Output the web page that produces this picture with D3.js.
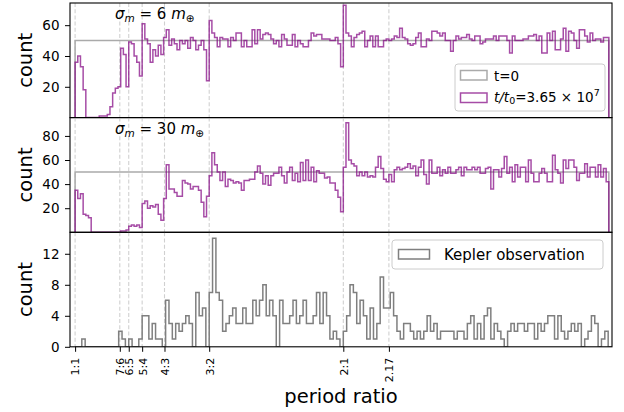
<!DOCTYPE html>
<html>
<head>
<meta charset="utf-8">
<script src="https://cdn.jsdelivr.net/npm/d3@7"></script>
<style>
  body { margin: 0; background: #fff; }
  svg { display: block; }
  text { font-family: "DejaVu Sans", sans-serif; }
</style>
</head>
<body>
<svg id="chart" width="624" height="412"></svg>
<script>
// Resonance markers on the shared period-ratio axis
const resonanceValues = [1, 7 / 6, 6 / 5, 5 / 4, 4 / 3, 3 / 2, 2, 2.17];
const resonanceLabels = ["1:1", "7:6", "6:5", "5:4", "4:3", "3:2", "2:1", "2.17"];

// Histogram binning
const simBinStart = 1.0;
const simBinWidth = 0.01;
const keplerBinStart = 1.0;
const keplerBinWidth = 0.0125;
const initialCount = 50;   // flat t=0 distribution per bin

// Simulated counts, sigma_m = 6 Earth masses
const countSigma6 = [
  36, 40, 33, 18, 0, 0, 0, 0, 0, 1, 1, 1, 2, 7, 16, 19, 20, 45, 41, 20,
  49, 48, 40, 36, 27, 61, 51, 48, 36, 44, 40, 47, 41, 52, 57, 47, 51, 48, 44, 50,
  48, 50, 45, 52, 50, 44, 47, 50, 44, 24,
  63, 55, 52, 46, 52, 51, 51, 46, 52, 50, 55, 55, 46, 50, 46, 46, 57, 48, 57, 51,
  54, 55, 54, 51, 48,
  50, 46, 54, 51, 47, 47, 54, 46, 50, 48, 46, 46, 50, 55, 53, 54, 54, 51, 51, 51,
  50, 50, 52, 48, 33,
  73, 55, 53, 46, 52, 54, 55, 56, 46, 50, 53, 46, 53, 46, 46, 50, 51, 50, 51, 53,
  52, 58, 52, 51, 48, 47, 48, 52, 55, 46, 46, 51, 50,
  56, 56, 55, 53, 55, 50, 50, 43, 50, 53, 51, 52, 52, 54, 51, 50, 53, 53, 48, 49,
  51, 51, 51, 53, 50, 53, 53, 53, 50, 42, 53, 50, 50, 50, 51, 51, 53, 53, 54, 50,
  53, 42, 42, 55, 50, 56, 44, 44, 51, 58, 43, 56, 55, 50, 45, 57, 57, 53, 49, 55,
  50, 51, 51, 49, 52, 52
];

// Simulated counts, sigma_m = 30 Earth masses
const countSigma30 = [
  35, 28, 32, 15, 14, 12, 0, 0, 0, 0, 0, 0, 0, 0, 0, 0, 0, 1, 1, 2,
  5, 6, 5, 6, 4, 24, 26, 20, 22, 21, 23, 15, 10, 28, 56, 36, 36, 33, 30, 30,
  43, 41, 40, 36, 38, 38, 35, 25, 13, 30,
  47, 66, 56, 50, 43, 50, 38, 44, 43, 41, 42, 41, 35, 43, 43,
  44, 44, 50, 55, 49, 40, 47, 39, 47, 49, 49, 54, 47, 41, 50, 54, 43, 49, 42, 58,
  43, 60, 43, 54, 42, 51, 49, 49, 45, 46, 41, 41, 35, 29, 17, 54, 91,
  60, 57, 55, 47, 50, 47, 50, 46, 47, 46, 54, 63, 53, 44, 42, 48, 42, 52, 54, 52,
  53, 54, 57, 53, 55, 47, 54, 60, 48, 40, 60,
  49, 49, 54, 47, 52, 49, 54, 49, 49, 52, 54, 47, 54, 52, 52, 54, 52, 54, 49, 49,
  53, 54, 36, 52, 52, 46, 53, 63, 49, 54, 42, 56, 46, 54, 54, 42, 60, 49, 42, 42,
  49, 53, 49, 42, 42, 64, 52, 49, 41, 60, 53, 60, 60, 54, 43, 49, 49, 57, 46, 54,
  54, 46, 56, 46, 53, 42
];

// Observed Kepler adjacent-pair period ratios
const countKepler = [
  0, 0, 1, 0, 0, 0, 0, 0, 0, 0, 0, 0, 0, 2, 1, 0, 1, 0, 0, 1,
  4, 4, 1, 3, 1, 1, 0, 6, 3, 1, 3, 2, 3, 4, 3, 0, 7, 4, 5, 0,
  7, 14, 7, 6, 2, 3, 4, 5, 3, 3, 5, 3, 3, 6, 4, 6, 8, 4, 6, 4,
  0, 6, 3, 3, 4, 6, 3, 4, 6, 3, 3, 4, 7, 3, 7, 4, 1, 2, 1, 0,
  2, 4, 8, 7, 3, 6, 4, 1, 5, 1, 3, 9, 5, 5, 7, 4, 2, 1, 3, 3,
  2, 1, 2, 1, 2, 4, 2, 3, 1, 2, 2, 2, 2, 1, 2, 2, 1, 3, 4, 1,
  3, 1, 4, 5, 1, 3, 2, 1, 0, 2, 3, 2, 3, 3, 2, 3, 3, 1, 3, 2,
  3, 4, 4, 1, 4, 2, 1, 2, 3, 2, 3, 0, 1, 2, 4, 3, 0, 1, 2, 0
];

const ticksSigma6 = [20, 40, 60];
const ticksSigma30 = [20, 40, 60, 80];
const ticksKepler = [0, 4, 8, 12];

const svg = d3.select("#chart");
const plotLeft = 70, plotRight = 612;

const x = d3.scaleLinear().domain([0.981, 3.0018]).range([plotLeft, plotRight]);

const panels = [
  { top: 3, bottom: 117.6, ymax: 74.4, ticks: ticksSigma6 },
  { top: 117.6, bottom: 232.3, ymax: 95.2, ticks: ticksSigma30 },
  { top: 232.3, bottom: 346.8, ymax: 14.77, ticks: ticksKepler }
];
panels.forEach(p => {
  p.y = d3.scaleLinear().domain([0, p.ymax]).range([p.bottom, p.top]);
});

const defs = svg.append("defs");
panels.forEach((p, i) => {
  defs.append("clipPath").attr("id", "clip" + i)
    .append("rect")
    .attr("x", plotLeft).attr("y", p.top)
    .attr("width", plotRight - plotLeft).attr("height", p.bottom - p.top);
});

// Build step outline points for a histogram
function stepPoints(counts, start, width, closeEnd) {
  const pts = [[start, 0]];
  counts.forEach((c, i) => {
    pts.push([start + i * width, c], [start + (i + 1) * width, c]);
  });
  if (closeEnd) pts.push([start + counts.length * width, 0]);
  return pts;
}

const simColor = "#800080";
const initColor = "#aaaaaa";
const keplerColor = "#7f7f7f";

panels.forEach((p, i) => {
  const g = svg.append("g").attr("clip-path", `url(#clip${i})`);
  const line = d3.line().x(d => x(d[0])).y(d => p.y(d[1]));

  // dashed resonance guides
  g.selectAll("line.res")
    .data(resonanceValues)
    .join("line")
    .attr("x1", d => x(d)).attr("x2", d => x(d))
    .attr("y1", p.top).attr("y2", p.bottom)
    .attr("stroke", "#d0d0d0")
    .attr("stroke-width", 1.1)
    .attr("stroke-dasharray", "4,2.2");

  if (i < 2) {
    const nBins = (i === 0 ? countSigma6 : countSigma30).length;
    const flat = new Array(nBins).fill(initialCount);
    g.append("path")
      .attr("d", line(stepPoints(flat, simBinStart, simBinWidth, true)))
      .attr("fill", "none")
      .attr("stroke", initColor)
      .attr("stroke-width", 1.5);
    g.append("path")
      .attr("d", line(stepPoints(i === 0 ? countSigma6 : countSigma30, simBinStart, simBinWidth, true)))
      .attr("fill", "none")
      .attr("stroke", simColor)
      .attr("stroke-opacity", 0.7)
      .attr("stroke-width", 1.5)
      .attr("stroke-linejoin", "miter");
  } else {
    g.append("path")
      .attr("d", line(stepPoints(countKepler, keplerBinStart, keplerBinWidth, false)))
      .attr("fill", "none")
      .attr("stroke", keplerColor)
      .attr("stroke-width", 1.5);
  }

  // y axis
  const ax = svg.append("g")
    .attr("transform", `translate(${plotLeft},0)`)
    .call(d3.axisLeft(p.y).tickValues(p.ticks).tickSize(5).tickPadding(5.5).tickFormat(d3.format("d")));
  ax.select(".domain").remove();
  ax.selectAll("line").attr("stroke", "#000").attr("stroke-width", 1);
  ax.selectAll("text").attr("font-size", 13.5).attr("fill", "#000")
    .attr("font-family", "DejaVu Sans");

  // frame
  svg.append("rect")
    .attr("x", plotLeft).attr("y", p.top)
    .attr("width", plotRight - plotLeft).attr("height", p.bottom - p.top)
    .attr("fill", "none").attr("stroke", "#000").attr("stroke-width", 1.1);

  // y label
  svg.append("text")
    .attr("transform", `translate(31.5,${(p.top + p.bottom) / 2}) rotate(-90)`)
    .attr("text-anchor", "middle")
    .attr("font-size", 19.5)
    .text("count");
});

// bottom x axis with resonance labels
const xAxis = svg.append("g")
  .attr("transform", `translate(0,${panels[2].bottom})`)
  .call(d3.axisBottom(x).tickValues(resonanceValues)
    .tickFormat((d, i) => resonanceLabels[i]).tickSize(5));
xAxis.select(".domain").remove();
xAxis.selectAll("line").attr("stroke", "#000");
xAxis.selectAll("text")
  .attr("font-size", 11)
  .attr("font-family", "DejaVu Sans")
  .attr("fill", "#000")
  .attr("transform", "rotate(-90)")
  .attr("text-anchor", "end")
  .attr("x", -11)
  .attr("y", 0)
  .attr("dy", "0.35em");

svg.append("text")
  .attr("x", (plotLeft + plotRight) / 2).attr("y", 403)
  .attr("text-anchor", "middle")
  .attr("font-size", 19.5)
  .text("period ratio");

// panel annotations: sigma_m = N m_earth
function sigmaLabel(xPos, yPos, value) {
  const t = svg.append("text").attr("x", xPos).attr("y", yPos).attr("font-size", 15);
  t.append("tspan").attr("font-style", "italic").text("σ");
  t.append("tspan").attr("font-style", "italic").attr("font-size", 10.5).attr("dy", 3).text("m");
  t.append("tspan").attr("dy", -3).text(` = ${value} `);
  t.append("tspan").attr("font-style", "italic").text("m");
  t.append("tspan").attr("font-size", 10.5).attr("dy", 3).text("⊕");
}
sigmaLabel(115, 18.5, 6);
sigmaLabel(115, 134, 30);

// legend for the simulated panels
const leg1 = svg.append("g");
leg1.append("rect")
  .attr("x", 455).attr("y", 64).attr("width", 150).attr("height", 47).attr("rx", 3)
  .attr("fill", "#fff").attr("fill-opacity", 0.8)
  .attr("stroke", "#cccccc").attr("stroke-width", 1);
leg1.append("rect")
  .attr("x", 460.5).attr("y", 70.5).attr("width", 26.5).attr("height", 9.5)
  .attr("fill", "none").attr("stroke", initColor).attr("stroke-width", 1.5);
leg1.append("text").attr("x", 494).attr("y", 80.5).attr("font-size", 13.5).text("t=0");
leg1.append("rect")
  .attr("x", 460.5).attr("y", 93).attr("width", 26.5).attr("height", 9.5)
  .attr("fill", "none").attr("stroke", simColor).attr("stroke-opacity", 0.7).attr("stroke-width", 1.5);
const lt = leg1.append("text").attr("x", 494).attr("y", 101.5).attr("font-size", 13.5);
lt.append("tspan").attr("font-style", "italic").text("t/t");
lt.append("tspan").attr("font-size", 9.5).attr("dy", 2.5).text("0");
lt.append("tspan").attr("dy", -2.5).text("=3.65 × 10");
lt.append("tspan").attr("font-size", 9.5).attr("dy", -5.5).text("7");

// legend for the observation panel
const leg2 = svg.append("g");
leg2.append("rect")
  .attr("x", 392).attr("y", 240).attr("width", 211).attr("height", 29).attr("rx", 3)
  .attr("fill", "#fff").attr("fill-opacity", 0.8)
  .attr("stroke", "#cccccc").attr("stroke-width", 1);
leg2.append("rect")
  .attr("x", 398.5).attr("y", 249.5).attr("width", 31).attr("height", 9.5)
  .attr("fill", "none").attr("stroke", keplerColor).attr("stroke-width", 1.5);
leg2.append("text").attr("x", 444).attr("y", 260).attr("font-size", 15).text("Kepler observation");
</script>
</body>
</html>
